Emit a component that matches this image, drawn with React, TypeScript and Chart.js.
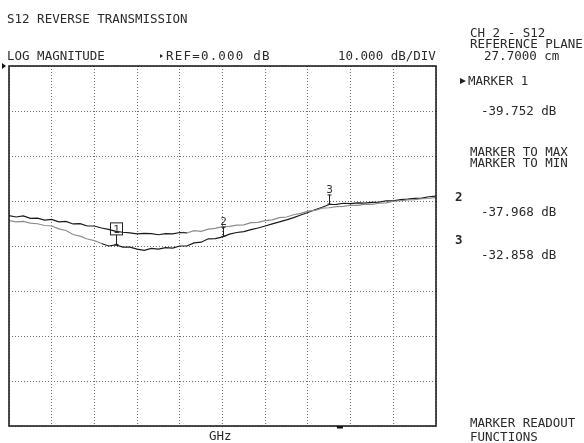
import React, { useEffect, useRef } from "react";
import { Chart, registerables } from "chart.js";

Chart.register(...registerables);

// ---- data ----
const TITLE = "S12 REVERSE TRANSMISSION";
const FORMAT_TEXT = "LOG MAGNITUDE";
const REF_TEXT = "REF=0.000 dB";
const SCALE_TEXT = "10.000 dB/DIV";
const X_UNIT = "GHz";
const CHANNEL_LINES = ["CH 2 - S12", "REFERENCE PLANE", "  27.7000 cm"];
const MENU_TITLE = "MARKER 1";
const MENU_ITEMS = ["MARKER TO MAX", "MARKER TO MIN"];
const SOFTKEY_LINES = ["MARKER READOUT", "FUNCTIONS"];

const REF_DB = 0;
const DB_PER_DIV = 10;
const Y_DIVS = 8;
const X_DIVS = 10;

// trace that starts on top at the left (dB)
const traceUpper = [
  -33.27, -33.55, -33.3, -33.85, -33.8, -34.25, -34.1, -34.65, -34.55, -35.1,
  -35.05, -35.55, -35.55, -36.0, -36.3, -36.75, -36.95, -37.1, -37.3, -37.2,
  -37.25, -37.5, -37.25, -37.3, -37.0, -37.1, -36.6, -36.75, -36.25, -36.1,
  -35.7, -35.65, -35.35, -35.3, -34.8, -34.75, -34.35, -34.2, -33.7, -33.55,
  -33.05, -32.75, -32.25, -32.1, -31.6, -31.5, -31.25, -31.2, -30.95, -30.95,
  -30.7, -30.75, -30.5, -30.4, -30.05, -29.95, -29.75, -29.7, -29.5, -29.45,
  -29.2,
];

// trace carrying the markers (dB)
const traceMarked = [
  -34.38, -34.65, -34.55, -34.9, -35.05, -35.45, -35.55, -36.2, -36.55, -37.45,
  -37.8, -38.45, -38.8, -39.45, -40.0, -39.75, -40.25, -40.25, -40.7, -40.95,
  -40.55, -40.7, -40.35, -40.45, -40.0, -40.0, -39.3, -39.15, -38.4, -38.35,
  -37.97, -37.35, -37.0, -36.8, -36.35, -36.0, -35.55, -35.1, -34.65, -34.2,
  -33.7, -33.1, -32.55, -31.95, -31.4, -30.78, -30.75, -30.5, -30.6, -30.4,
  -30.45, -30.3, -30.25, -29.95, -29.95, -29.7, -29.6, -29.4, -29.35, -29.05,
  -28.9,
];

const markerIndex = [15, 30, 45];
const markerLabels = ["1", "2", "3"];
const markerReadouts = ["-39.752 dB", "-37.968 dB", "-32.858 dB"];
const ACTIVE_MARKER = 0;
const BOTTOM_MARK_X = 7.75; // small indicator under the graticule (divisions)

const sweepX = traceUpper.map((_, i) => (i * X_DIVS) / (traceUpper.length - 1));

// ---- styles ----
const BLACK = "#1a1a1a";
const GRAY = "#8c8c8c";
const GRID = "#6e6e6e";
const TEXT = "#2a2a2a";
const FONT = "'DejaVu Sans Mono', monospace";
const FS = 12.5;
const UPPER_SWITCH = 25;
const MARKED_SWITCH = 13;
const STEM = 10;

const framePlugin = {
  id: "frame",
  afterDatasetsDraw(chart: any) {
    const { ctx, chartArea } = chart;
    const ys = chart.scales.y;
    const xs = chart.scales.x;
    ctx.save();
    ctx.strokeStyle = "#202020";
    ctx.lineWidth = 1.6;
    ctx.strokeRect(chartArea.left, chartArea.top, chartArea.right - chartArea.left, chartArea.bottom - chartArea.top);
    // reference level arrow
    const ry = ys.getPixelForValue(REF_DB);
    ctx.fillStyle = "#111";
    ctx.beginPath();
    ctx.moveTo(chartArea.left - 7, ry - 3);
    ctx.lineTo(chartArea.left - 3, ry);
    ctx.lineTo(chartArea.left - 7, ry + 3);
    ctx.closePath();
    ctx.fill();
    // small indicator below graticule
    const bx = xs.getPixelForValue(BOTTOM_MARK_X);
    ctx.fillRect(bx - 3, chartArea.bottom, 6, 2.5);
    ctx.restore();
  },
};

const markerPlugin = {
  id: "markers",
  afterDatasetsDraw(chart: any) {
    const { ctx } = chart;
    const meta = chart.getDatasetMeta(1);
    ctx.save();
    ctx.strokeStyle = "#222";
    ctx.fillStyle = "#333";
    ctx.lineWidth = 1;
    ctx.font = `11px ${FONT}`;
    ctx.textAlign = "center";
    ctx.textBaseline = "alphabetic";
    markerIndex.forEach((idx, m) => {
      const pt = meta.data[idx];
      if (!pt) return;
      const x = Math.round(pt.x) + 0.5;
      const y = pt.y;
      ctx.beginPath();
      ctx.moveTo(x, y);
      ctx.lineTo(x, y - STEM);
      ctx.moveTo(x - 2, y - 0.5);
      ctx.lineTo(x + 2, y - 0.5);
      ctx.stroke();
      if (m === ACTIVE_MARKER) {
        const top = y - STEM - 12;
        ctx.strokeRect(x - 6, top, 12, 12);
        ctx.fillText(markerLabels[m], x, top + 10);
      } else {
        ctx.beginPath();
        ctx.moveTo(x - 2, y - STEM + 0.5);
        ctx.lineTo(x + 2, y - STEM + 0.5);
        ctx.stroke();
        ctx.fillText(markerLabels[m], x, y - STEM - 2);
      }
    });
    ctx.restore();
  },
};

type Label = { text: string; x: number; base: number; bold?: boolean; ls?: number; size?: number };

const labels: Label[] = [
  { text: TITLE, x: 7, base: 23.3 },
  { text: FORMAT_TEXT, x: 7, base: 60.5 },
  { text: REF_TEXT, x: 166, base: 60.5, ls: 1.2 },
  { text: SCALE_TEXT, x: 338, base: 60.5 },
  { text: CHANNEL_LINES[0], x: 470, base: 37.5 },
  { text: CHANNEL_LINES[1], x: 470, base: 49 },
  { text: CHANNEL_LINES[2], x: 469, base: 60.5 },
  { text: MENU_TITLE, x: 468, base: 86 },
  { text: markerReadouts[0], x: 481, base: 115.5 },
  { text: MENU_ITEMS[0], x: 470, base: 157 },
  { text: MENU_ITEMS[1], x: 470, base: 168 },
  { text: markerLabels[1], x: 455, base: 202, bold: true },
  { text: markerReadouts[1], x: 481, base: 217 },
  { text: markerLabels[2], x: 455, base: 245, bold: true },
  { text: markerReadouts[2], x: 481, base: 259.5 },
  { text: X_UNIT, x: 209, base: 441 },
  { text: SOFTKEY_LINES[0], x: 470, base: 427.5 },
  { text: SOFTKEY_LINES[1], x: 470, base: 442 },
];

// pointer triangles next to text (left x, centre y, half-height, width)
const pointers = [
  { x: 160, cy: 56, h: 2.5, w: 3.5 },
  { x: 460, cy: 81.5, h: 3.5, w: 6 },
];

export default function App() {
  const ref = useRef<HTMLCanvasElement>(null);

  useEffect(() => {
    const canvas = ref.current;
    if (!canvas) return;
    const gridOpts = { color: GRID, lineWidth: 1, drawTicks: false };
    const chart = new Chart(canvas, {
      type: "line",
      data: {
        datasets: [
          {
            data: traceUpper.map((y, i) => ({ x: sweepX[i], y })),
            borderColor: BLACK,
            borderWidth: 1.2,
            pointRadius: 0,
            segment: { borderColor: (c: any) => (c.p0DataIndex < UPPER_SWITCH ? BLACK : GRAY) },
          },
          {
            data: traceMarked.map((y, i) => ({ x: sweepX[i], y })),
            borderColor: BLACK,
            borderWidth: 1.2,
            pointRadius: 0,
            segment: { borderColor: (c: any) => (c.p0DataIndex < MARKED_SWITCH ? GRAY : BLACK) },
          },
        ],
      },
      options: {
        animation: false,
        responsive: false,
        devicePixelRatio: 1,
        events: [],
        layout: { padding: { left: 9, top: 66, right: 148, bottom: 17 } },
        plugins: { legend: { display: false }, tooltip: { enabled: false } },
        scales: {
          x: {
            type: "linear",
            min: 0,
            max: X_DIVS,
            ticks: { display: false, stepSize: 1 },
            grid: gridOpts,
            border: { display: false, dash: [1, 2] },
          },
          y: {
            type: "linear",
            min: REF_DB - DB_PER_DIV * Y_DIVS,
            max: REF_DB,
            ticks: { display: false, stepSize: DB_PER_DIV },
            grid: gridOpts,
            border: { display: false, dash: [1, 2] },
          },
        },
      } as any,
      plugins: [framePlugin, markerPlugin],
    });
    return () => chart.destroy();
  }, []);

  return (
    <div
      style={{
        position: "fixed",
        left: 0,
        top: 0,
        width: 584,
        height: 443,
        overflow: "hidden",
        background: "#fff",
      }}
    >
      <canvas ref={ref} width={584} height={443} style={{ position: "absolute", left: 0, top: 0 }} />
      {pointers.map((p, i) => (
        <div
          key={`p${i}`}
          style={{
            position: "absolute",
            left: p.x,
            top: p.cy - p.h,
            width: 0,
            height: 0,
            borderTop: `${p.h}px solid transparent`,
            borderBottom: `${p.h}px solid transparent`,
            borderLeft: `${p.w}px solid #222`,
          }}
        />
      ))}
      {labels.map((l, i) => {
        const size = l.size ?? FS;
        return (
          <div
            key={i}
            style={{
              position: "absolute",
              left: l.x,
              top: l.base - 0.846 * size,
              fontFamily: FONT,
              fontSize: size,
              lineHeight: `${size}px`,
              fontWeight: l.bold ? "bold" : "normal",
              letterSpacing: l.ls ? `${l.ls}px` : undefined,
              color: TEXT,
              whiteSpace: "pre",
            }}
          >
            {l.text}
          </div>
        );
      })}
    </div>
  );
}
